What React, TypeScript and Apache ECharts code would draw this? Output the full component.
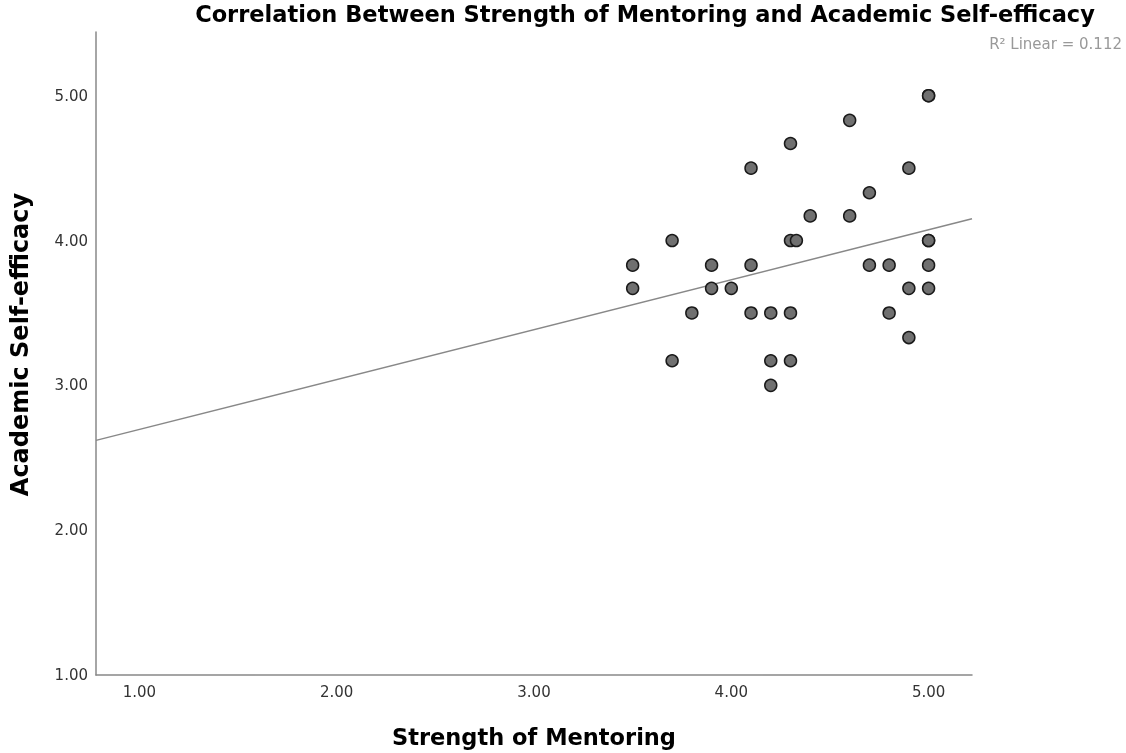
import React, { useEffect, useRef } from "react";
import * as echarts from "echarts";

const mentoring = [5.0, 5.0, 4.6, 4.3, 4.1, 4.9, 4.7, 4.4, 4.6, 3.7, 4.3, 4.33, 5.0, 5.0, 3.5, 3.9, 4.1, 4.7, 4.8, 5.0, 3.5, 3.9, 4.0, 4.9, 5.0, 3.8, 4.1, 4.2, 4.3, 4.8, 4.9, 3.7, 4.2, 4.3, 4.2];
const selfEfficacy = [5.0, 5.0, 4.83, 4.67, 4.5, 4.5, 4.33, 4.17, 4.17, 4.0, 4.0, 4.0, 4.0, 4.0, 3.83, 3.83, 3.83, 3.83, 3.83, 3.83, 3.67, 3.67, 3.67, 3.67, 3.67, 3.5, 3.5, 3.5, 3.5, 3.5, 3.33, 3.17, 3.17, 3.17, 3.0];
const fitX = [0.78, 5.22];
const fitY = [2.62, 4.15];
const tickValues = [1, 2, 3, 4, 5];
const titleText = "Correlation Between Strength of Mentoring and Academic Self-efficacy";
const r2Text = "R\u00b2 Linear = 0.112";

export default function App() {
  const ref = useRef<HTMLDivElement>(null);
  useEffect(() => {
    if (!ref.current) return;
    const chart = echarts.init(ref.current, undefined, { renderer: "svg" });
    const labelStyle = {
      color: "#333",
      fontSize: 15,
      fontFamily: "DejaVu Sans",
      formatter: (v: number) => v.toFixed(2),
    };
    chart.setOption({
      animation: false,
      grid: { left: 96, right: 154, top: 32, bottom: 78, outerBoundsMode: "none", containLabel: false },
      graphic: [
        {
          type: "text",
          x: 645,
          y: 14,
          style: {
            text: titleText,
            textAlign: "center",
            textVerticalAlign: "middle",
            fontFamily: "DejaVu Sans",
            fontWeight: "bold",
            fontSize: 22.5,
            fill: "#000",
          },
        },
        {
          type: "text",
          x: 1122,
          y: 44,
          style: {
            text: r2Text,
            textAlign: "right",
            textVerticalAlign: "middle",
            fontFamily: "DejaVu Sans",
            fontSize: 15,
            fill: "#999",
          },
        },
      ],
      xAxis: {
        type: "value",
        min: 0.78,
        max: 5.22,
        name: "Strength of Mentoring",
        nameLocation: "middle",
        nameGap: 50,
        nameTextStyle: { fontFamily: "DejaVu Sans", fontWeight: "bold", fontSize: 22.5, color: "#000" },
        axisLine: { show: true, onZero: false, lineStyle: { color: "#888", width: 1.5 } },
        axisTick: { show: false },
        splitLine: { show: false },
        axisLabel: { ...labelStyle, customValues: tickValues, margin: 9 },
      },
      yAxis: {
        type: "value",
        min: 1,
        max: 5.44,
        name: "Academic Self-efficacy",
        nameLocation: "middle",
        nameGap: 64,
        nameTextStyle: { fontFamily: "DejaVu Sans", fontWeight: "bold", fontSize: 24, color: "#000", padding: [0, 0, 0, 18] },
        axisLine: { show: true, onZero: false, lineStyle: { color: "#888", width: 1.5 } },
        axisTick: { show: false },
        splitLine: { show: false },
        axisLabel: { ...labelStyle, customValues: tickValues, margin: 8 },
      },
      series: [
        {
          type: "line",
          data: fitX.map((x, i) => [x, fitY[i]]),
          symbol: "none",
          lineStyle: { color: "#888", width: 1.5 },
          z: 1,
        },
        {
          type: "scatter",
          data: mentoring.map((x, i) => [x, selfEfficacy[i]]),
          symbolSize: 12,
          itemStyle: { color: "#707070", borderColor: "#1a1a1a", borderWidth: 1.5, opacity: 1 },
          z: 2,
        },
      ],
    });
    return () => chart.dispose();
  }, []);
  return <div ref={ref} style={{ position: "fixed", left: 0, top: 0, width: 1126, height: 753 }} />;
}
